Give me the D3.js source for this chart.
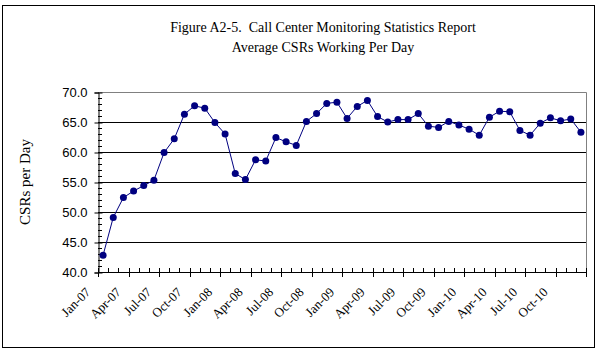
<!DOCTYPE html>
<html>
<head>
  <meta charset="utf-8">
  <title>Average CSRs Working Per Day</title>
  <script src="https://d3js.org/d3.v7.min.js"></script>
  <style>
    body {
      margin: 0;
      padding: 0;
      background: #fff;
    }
    .title, .ylabel, .xlab {
      font-family: "Liberation Serif", "Times New Roman", serif;
    }
    .ytick {
      font-family: "Liberation Sans", Arial, sans-serif;
    }
  </style>
</head>
<body>
  <div id="chart"></div>
  <script>
    // Months Jan-07 .. Dec-10
    var months = [
      "Jan-07","Feb-07","Mar-07","Apr-07","May-07","Jun-07","Jul-07","Aug-07","Sep-07","Oct-07","Nov-07","Dec-07",
      "Jan-08","Feb-08","Mar-08","Apr-08","May-08","Jun-08","Jul-08","Aug-08","Sep-08","Oct-08","Nov-08","Dec-08",
      "Jan-09","Feb-09","Mar-09","Apr-09","May-09","Jun-09","Jul-09","Aug-09","Sep-09","Oct-09","Nov-09","Dec-09",
      "Jan-10","Feb-10","Mar-10","Apr-10","May-10","Jun-10","Jul-10","Aug-10","Sep-10","Oct-10","Nov-10","Dec-10"
    ];

    // Average CSRs working per day
    var csrs = [
      42.8, 49.1, 52.4, 53.5, 54.4, 55.3, 59.9, 62.2, 66.3, 67.7, 67.3, 64.9,
      63.0, 56.4, 55.4, 58.7, 58.5, 62.4, 61.7, 61.1, 65.1, 66.4, 68.1, 68.3,
      65.6, 67.6, 68.6, 65.9, 65.0, 65.4, 65.4, 66.4, 64.3, 64.1, 65.1, 64.5,
      63.8, 62.8, 65.8, 66.8, 66.7, 63.6, 62.8, 64.8, 65.7, 65.2, 65.5, 63.3
    ];

    var yTicks = [40, 45, 50, 55, 60, 65, 70];

    var width = 601, height = 354;
    var pLeft = 98, pRight = 586, pTop = 92, pBottom = 272;

    var svg = d3.select("#chart")
      .append("svg")
        .attr("width", width)
        .attr("height", height);

    // outer chart border
    svg.append("rect")
      .attr("x", 2.5).attr("y", 5.5)
      .attr("width", 592).attr("height", 342)
      .attr("fill", "#fff")
      .attr("stroke", "#000");

    var x = d3.scaleBand()
      .domain(months)
      .range([pLeft, pRight])
      .padding(0);

    var y = d3.scaleLinear()
      .domain([40, 70])
      .range([pBottom, pTop]);

    // gridlines
    svg.append("g")
      .selectAll("line")
      .data(yTicks.filter(function(d) { return d > 40 && d < 70; }))
      .enter().append("line")
        .attr("x1", pLeft).attr("x2", pRight)
        .attr("y1", function(d) { return Math.round(y(d)) + 0.5; })
        .attr("y2", function(d) { return Math.round(y(d)) + 0.5; })
        .attr("stroke", "#000");

    // plot area border (top and right)
    svg.append("path")
      .attr("d", "M" + pLeft + "," + (pTop + 0.5) + "H" + (pRight + 0.5) + "V" + pBottom)
      .attr("fill", "none")
      .attr("stroke", "#808080");

    // y axis
    var yAxis = d3.axisLeft(y)
      .tickValues(yTicks)
      .tickSize(4)
      .tickPadding(7)
      .tickFormat(d3.format(".1f"));

    var gy = svg.append("g")
      .attr("transform", "translate(" + (pLeft + 0.5) + ",0.5)")
      .call(yAxis);
    gy.attr("font-family", null).attr("font-size", null);
    gy.select(".domain").attr("stroke", "#000");
    gy.selectAll(".tick line").attr("x2", -4).attr("x1", 4).attr("stroke", "#000");
    gy.selectAll(".tick text")
      .attr("class", "ytick")
      .attr("font-size", 13)
      .attr("fill", "#000");

    // y minor ticks
    svg.append("g")
      .selectAll("line")
      .data(d3.range(41, 70))
      .enter().append("line")
        .attr("x1", pLeft).attr("x2", pLeft + 4)
        .attr("y1", function(d) { return Math.round(y(d)) + 0.5; })
        .attr("y2", function(d) { return Math.round(y(d)) + 0.5; })
        .attr("stroke", "#000");

    // x axis line and ticks at category boundaries
    var boundaries = months.map(function(m) { return x(m); }).concat([pRight]);
    svg.append("line")
      .attr("x1", pLeft).attr("x2", pRight + 1)
      .attr("y1", pBottom + 0.5).attr("y2", pBottom + 0.5)
      .attr("stroke", "#000");
    svg.append("g")
      .selectAll("line")
      .data(boundaries)
      .enter().append("line")
        .attr("x1", function(d) { return Math.round(d) + 0.5; })
        .attr("x2", function(d) { return Math.round(d) + 0.5; })
        .attr("y1", function(d, i) { return i % 3 === 0 ? pBottom + 5 : pBottom; })
        .attr("y2", pBottom - 4)
        .attr("stroke", "#000");

    // x labels, every third month
    svg.append("g")
      .selectAll("text")
      .data(months.filter(function(d, i) { return i % 3 === 0; }))
      .enter().append("text")
        .attr("class", "xlab")
        .attr("font-size", 13)
        .attr("text-anchor", "end")
        .attr("transform", function(d) {
          var cx = x(d) + x.bandwidth() / 2;
          return "translate(" + (cx - 12) + "," + (pBottom + 21) + ") rotate(-45)";
        })
        .text(function(d) { return d; });

    // line
    var line = d3.line()
      .x(function(d, i) { return x(months[i]) + x.bandwidth() / 2; })
      .y(function(d) { return y(d); });

    svg.append("path")
      .datum(csrs)
      .attr("fill", "none")
      .attr("stroke", "#000080")
      .attr("stroke-width", 1)
      .attr("d", line);

    svg.append("g")
      .selectAll("circle")
      .data(csrs)
      .enter().append("circle")
        .attr("cx", function(d, i) { return x(months[i]) + x.bandwidth() / 2; })
        .attr("cy", function(d) { return y(d); })
        .attr("r", 3.5)
        .attr("fill", "#000080");

    // titles
    svg.append("text")
      .attr("class", "title")
      .attr("x", 323).attr("y", 32)
      .attr("text-anchor", "middle")
      .attr("font-size", 14)
      .style("white-space", "pre")
      .text("Figure A2-5.  Call Center Monitoring Statistics Report");

    svg.append("text")
      .attr("class", "title")
      .attr("x", 323).attr("y", 52)
      .attr("text-anchor", "middle")
      .attr("font-size", 14)
      .text("Average CSRs Working Per Day");

    svg.append("text")
      .attr("class", "ylabel")
      .attr("font-size", 15)
      .attr("text-anchor", "middle")
      .attr("transform", "translate(30," + ((pTop + pBottom) / 2) + ") rotate(-90)")
      .text("CSRs per Day");
  </script>
</body>
</html>
